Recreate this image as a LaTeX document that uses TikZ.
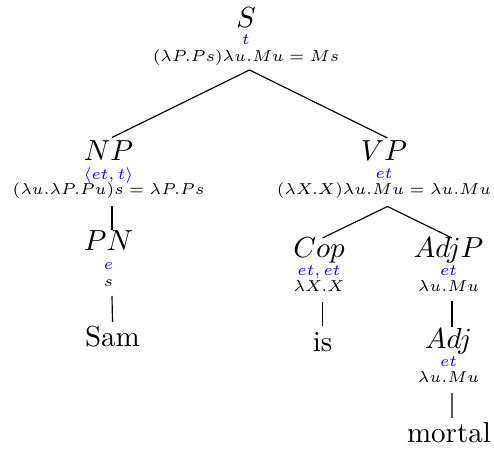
\documentclass[tikz,border=0pt]{standalone}
\usepackage{graphicx}
\usetikzlibrary{calc}
\newcommand\smf[1]{\scalebox{0.91}{\fontsize{6}{7}\selectfont$#1$}}
\begin{document}
\begin{tikzpicture}[x=0.3448pt,y=-0.3448pt,
  cat/.style={anchor=base,inner sep=0pt},
  ty/.style={anchor=base,inner sep=0pt,text=blue},
  fm/.style={anchor=base,inner sep=0pt},
  leaf/.style={anchor=base,inner sep=0pt},
  edge/.style={draw=black,line width=0.4pt}]
\useasboundingbox (0,0) rectangle (494,453);
% S
\node[cat] (sC) at (246,28) {$S$};
\node[ty]  (sT) at (246,45) {\smf{t}};
\node[fm]  (sF) at (246,62) {\smf{(\lambda P.Ps)\lambda u.Mu = Ms}};
% NP
\node[cat] (npC) at (108.5,160.5) {$NP$};
\node[ty]  (npT) at (108.5,179.5) {\smf{\langle et,t\rangle}};
\node[fm]  (npF) at (108.5,194.5) {\smf{(\lambda u.\lambda P.Pu)s = \lambda P.Ps}};
% VP
\node[cat] (vpC) at (384,160.5) {$VP$};
\node[ty]  (vpT) at (384,179) {\smf{et}};
\node[fm]  (vpF) at (384,194.5) {\smf{(\lambda X.X)\lambda u.Mu = \lambda u.Mu}};
% PN
\node[cat] (pnC) at (108.5,251) {$PN$};
\node[ty]  (pnT) at (108.5,270) {\smf{e}};
\node[fm]  (pnF) at (108.5,287) {\smf{s}};
% Cop
\node[cat] (copC) at (319,258) {$Cop$};
\node[ty]  (copT) at (319,276) {\smf{et,et}};
\node[fm]  (copF) at (319,292) {\smf{\lambda X.X}};
% AdjP
\node[cat] (adjpC) at (448.5,257.5) {$AdjP$};
\node[ty]  (adjpT) at (448.5,275.5) {\smf{et}};
\node[fm]  (adjpF) at (448.5,291.5) {\smf{\lambda u.Mu}};
% Adj
\node[cat] (adjC) at (448.5,349) {$Adj$};
\node[ty]  (adjT) at (448.5,367) {\smf{et}};
\node[fm]  (adjF) at (448.5,383) {\smf{\lambda u.Mu}};
% leaves
\node[leaf] (sam) at (112.5,347) {Sam};
\node[leaf] (is) at (322.5,352) {is};
\node[leaf] (mortal) at (449,443) {mortal};
% edges
\draw[edge] ($(sF.base)+(3.5,8)$) -- ($(npC.base)+(3.5,-23)$);
\draw[edge] ($(sF.base)+(3.5,8)$) -- ($(vpC.base)+(3.5,-22.5)$);
\draw[edge] ($(npF.base)+(3.5,12)$) -- ($(pnC.base)+(3.5,-21)$);
\draw[edge] ($(vpF.base)+(3.5,12)$) -- ($(copC.base)+(3.5,-20)$);
\draw[edge] ($(vpF.base)+(3.5,12)$) -- ($(adjpC.base)+(3.5,-19.5)$);
\draw[edge] ($(pnF.base)+(3.5,9)$) -- ($(sam.base)+(0,-25)$);
\draw[edge] ($(copF.base)+(3.5,10)$) -- ($(is.base)+(0,-26)$);
\draw[edge] ($(adjpF.base)+(3.5,10)$) -- ($(adjC.base)+(3.5,-22)$);
\draw[edge] ($(adjF.base)+(3.5,10)$) -- ($(mortal.base)+(3,-25)$);
\end{tikzpicture}
\end{document}
